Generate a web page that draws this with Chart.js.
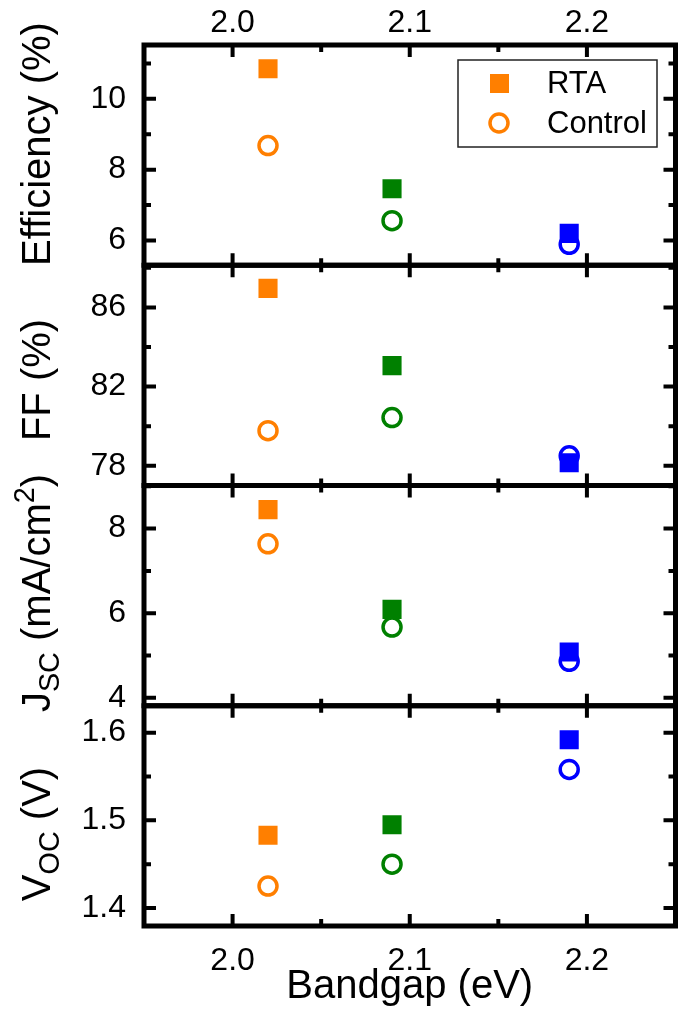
<!DOCTYPE html>
<html>
<head>
<meta charset="utf-8">
<script src="https://cdn.jsdelivr.net/npm/chart.js@4/dist/chart.umd.min.js"></script>
<style>
  html, body { margin: 0; padding: 0; background: #fff; overflow: hidden; }
  #wrap { width: 678px; height: 1011px; overflow: hidden; position: relative; }
  canvas { display: block; }
</style>
</head>
<body>
<div id="wrap">
  <!-- a little wider than the page: the big markers make Chart.js keep a right margin -->
  <canvas id="panels" width="689" height="1011"></canvas>
</div>
<script>
// values
const bandgap = [2.02, 2.09, 2.19];
const markerColors = ['#ff7f00', '#008000', '#0000ff'];

const effRTA = [10.85, 7.46, 6.2];
const effControl = [8.68, 6.56, 5.89];
const ffRTA = [86.96, 83.06, 78.15];
const ffControl = [79.77, 80.43, 78.5];
const jscRTA = [8.45, 6.09, 5.08];
const jscControl = [7.64, 5.67, 4.86];
const vocRTA = [1.483, 1.495, 1.592];
const vocControl = [1.425, 1.45, 1.558];

const xTicks = [2.0, 2.1, 2.2];
const xMinor = [1.95, 2.05, 2.15, 2.25];
const effTicks = [6, 8, 10];
const effMinor = [7, 9, 11];
const ffTicks = [78, 82, 86];
const ffMinor = [80, 84, 88];
const jscTicks = [4, 6, 8];
const jscMinor = [5, 7, 9];
const vocTicks = [1.4, 1.5, 1.6];
const vocMinor = [1.45, 1.55];

const FONT = '"Liberation Sans", Arial, sans-serif';

// top to bottom
const panels = [
  { id: 'yEff', min: 5.3, max: 11.52, ticks: effTicks, minor: effMinor, digits: 0,
    rta: effRTA, control: effControl, titleY: 144,
    title: [{ t: 'Efficiency (%)' }] },
  { id: 'yFF', min: 77.0, max: 88.13, ticks: ffTicks, minor: ffMinor, digits: 0,
    rta: ffRTA, control: ffControl, titleY: 380,
    title: [{ t: 'FF (%)' }] },
  { id: 'yJsc', min: 3.81, max: 9.02, ticks: jscTicks, minor: jscMinor, digits: 0,
    rta: jscRTA, control: jscControl, titleY: 593,
    title: [{ t: 'J' }, { t: 'SC', sub: true }, { t: ' (mA/cm' }, { t: '2', sup: true }, { t: ')' }] },
  { id: 'yVoc', min: 1.3795, max: 1.6307, ticks: vocTicks, minor: vocMinor, digits: 1,
    rta: vocRTA, control: vocControl, titleY: 834,
    title: [{ t: 'V' }, { t: 'OC', sub: true }, { t: ' (V)' }] }
];

const pts = (ys) => bandgap.map((x, i) => ({ x: x, y: ys[i] }));

const datasets = [];
panels.forEach(p => {
  datasets.push({
    label: 'RTA', yAxisID: p.id, xAxisID: 'x', data: pts(p.rta),
    pointStyle: 'rect', pointRadius: 13.5, borderWidth: 0,
    backgroundColor: markerColors, borderColor: markerColors
  });
  datasets.push({
    label: 'Control', yAxisID: p.id, xAxisID: 'x', data: pts(p.control),
    pointStyle: 'circle', pointRadius: 9, borderWidth: 3.5,
    backgroundColor: 'rgba(0,0,0,0)', borderColor: markerColors
  });
});

const tickFont = { family: FONT, size: 32 };
const noPad = s => { s.paddingLeft = 0; s.paddingRight = 0; s.paddingTop = 0; s.paddingBottom = 0; };

const scales = {
  x: {
    type: 'linear', position: 'bottom', min: 1.95, max: 2.25,
    grid: { display: false }, border: { display: false },
    afterBuildTicks: s => { s.ticks = xTicks.map(v => ({ value: v })); },
    afterFit: s => { s.height = 85; noPad(s); },
    ticks: { font: tickFont, color: '#000', padding: 8, autoSkip: false, maxRotation: 0,
             callback: v => v.toFixed(1) },
    title: { display: true, text: 'Bandgap (eV)', color: '#000', font: { family: FONT, size: 40 }, padding: 0 }
  },
  xTop: {
    type: 'linear', position: 'top', min: 1.95, max: 2.25,
    grid: { display: false }, border: { display: false },
    afterBuildTicks: s => { s.ticks = xTicks.map(v => ({ value: v })); },
    afterFit: s => { s.height = 45; noPad(s); },
    ticks: { font: tickFont, color: '#000', padding: -5, autoSkip: false, maxRotation: 0,
             callback: v => v.toFixed(1) }
  }
};
// stacked scales are laid out bottom-up, so add them in reverse
panels.slice().reverse().forEach(p => {
  scales[p.id] = {
    type: 'linear', position: 'left', stack: 'panels', stackWeight: 1,
    min: p.min, max: p.max,
    grid: { display: false }, border: { display: false },
    afterBuildTicks: s => { s.ticks = p.ticks.map(v => ({ value: v })); },
    afterFit: s => { s.width = 144; noPad(s); },
    ticks: { font: tickFont, color: '#000', padding: 10, autoSkip: false,
             callback: v => v.toFixed(p.digits) }
  };
});

function drawTitle(ctx, parts, baseX, cy, size) {
  ctx.save();
  ctx.translate(baseX, cy);
  ctx.rotate(-Math.PI / 2);
  ctx.fillStyle = '#000';
  ctx.textBaseline = 'alphabetic';
  ctx.textAlign = 'left';
  const pieces = parts.map(p => {
    const s = (p.sub || p.sup) ? size * 0.72 : size;
    ctx.font = s + 'px ' + FONT;
    return { t: p.t, s: s, w: ctx.measureText(p.t).width,
             dy: p.sub ? size * 0.22 : (p.sup ? -size * 0.4 : 0) };
  });
  const total = pieces.reduce((a, p) => a + p.w, 0);
  let x = -total / 2;
  pieces.forEach(p => {
    ctx.font = p.s + 'px ' + FONT;
    ctx.fillText(p.t, x, p.dy);
    x += p.w;
  });
  ctx.restore();
}

const framePlugin = {
  id: 'frame',
  afterDatasetsDraw(chart) {
    const ctx = chart.ctx;
    const xs = chart.scales.x;
    const left = chart.chartArea.left, right = chart.chartArea.right;
    ctx.save();
    ctx.strokeStyle = '#000';
    ctx.lineCap = 'butt';
    panels.forEach(p => {
      const ys = chart.scales[p.id];
      const top = ys.top, bottom = ys.bottom;
      ctx.lineWidth = 4;
      ctx.beginPath();
      p.ticks.forEach(v => {
        const y = ys.getPixelForValue(v);
        ctx.moveTo(left, y); ctx.lineTo(left + 12, y);
        ctx.moveTo(right, y); ctx.lineTo(right - 12, y);
      });
      p.minor.forEach(v => {
        if (v < p.min || v > p.max) return;
        const y = ys.getPixelForValue(v);
        ctx.moveTo(left, y); ctx.lineTo(left + 7, y);
        ctx.moveTo(right, y); ctx.lineTo(right - 7, y);
      });
      xTicks.forEach(v => {
        const x = xs.getPixelForValue(v);
        ctx.moveTo(x, top); ctx.lineTo(x, top + 12);
        ctx.moveTo(x, bottom); ctx.lineTo(x, bottom - 12);
      });
      xMinor.forEach(v => {
        const x = xs.getPixelForValue(v);
        ctx.moveTo(x, top); ctx.lineTo(x, top + 7);
        ctx.moveTo(x, bottom); ctx.lineTo(x, bottom - 7);
      });
      ctx.stroke();
      ctx.lineWidth = 5;
      ctx.strokeRect(left, top, right - left, bottom - top);
      drawTitle(ctx, p.title, 50, p.titleY, 40);
    });

    // legend inside the top panel
    const lx = 458, ly = 60, lw = 199, lh = 87;
    ctx.lineWidth = 1.5;
    ctx.strokeStyle = '#222';
    ctx.strokeRect(lx, ly, lw, lh);
    ctx.fillStyle = markerColors[0];
    ctx.fillRect(490, 74, 19, 19);
    ctx.strokeStyle = markerColors[0];
    ctx.lineWidth = 3.5;
    ctx.beginPath();
    ctx.arc(499, 123, 9, 0, Math.PI * 2);
    ctx.stroke();
    ctx.fillStyle = '#000';
    ctx.font = '31px ' + FONT;
    ctx.textBaseline = 'middle';
    ctx.textAlign = 'left';
    ctx.fillText('RTA', 547, 84);
    ctx.fillText('Control', 547, 124);
    ctx.restore();
  }
};

new Chart(document.getElementById('panels'), {
  type: 'scatter',
  data: { datasets: datasets },
  options: {
    responsive: false,
    devicePixelRatio: 1,
    animation: false,
    events: [],
    layout: { padding: 0 },
    plugins: { legend: { display: false }, tooltip: { enabled: false } },
    scales: scales
  },
  plugins: [framePlugin]
});
</script>
</body>
</html>
